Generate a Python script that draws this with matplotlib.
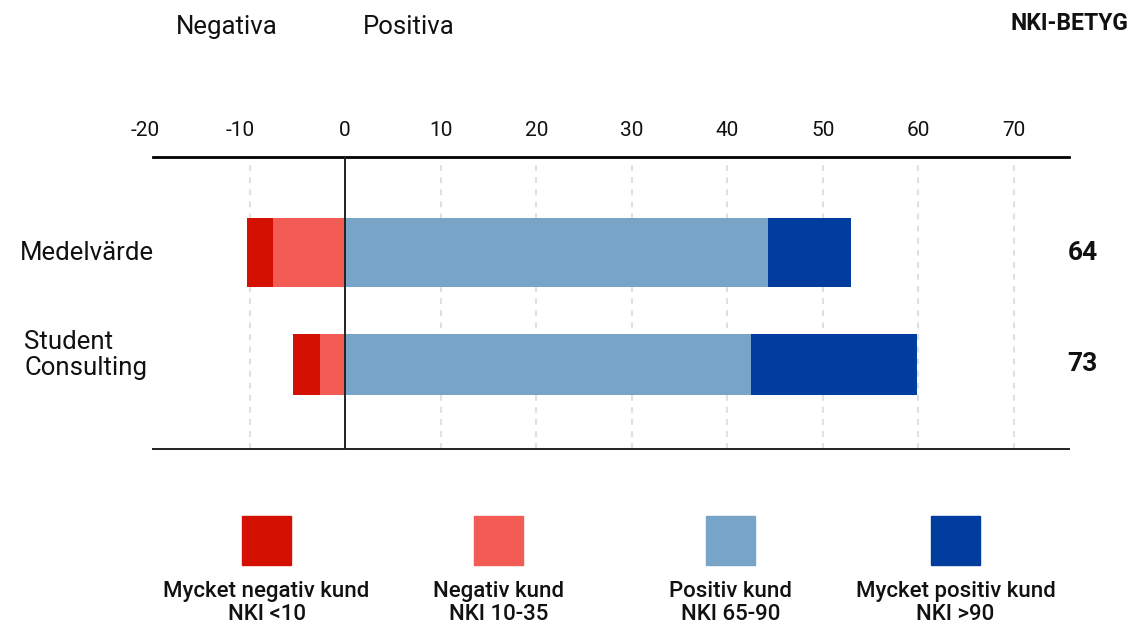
import matplotlib
matplotlib.use("Agg")
import matplotlib.pyplot as plt
import matplotlib.transforms as mtransforms
from matplotlib.patches import Rectangle

plt.rcParams['font.family'] = ['Roboto', 'DejaVu Sans']

# data
categories = ["Medelvärde", "Student\nConsulting"]
nki_scores = ["64", "73"]
very_neg = [2.72, 2.82]
neg = [7.53, 2.62]
pos = [44.3, 42.5]
very_pos = [8.6, 17.3]

ticks = [-20, -10, 0, 10, 20, 30, 40, 50, 60, 70]
tick_labels = ["-20", "-10", "0", "10", "20", "30", "40", "50", "60", "70"]

legend_names = ["Mycket negativ kund\nNKI <10", "Negativ kund\nNKI 10-35",
                "Positiv kund\nNKI 65-90", "Mycket positiv kund\nNKI >90"]
colors = ["#D41100", "#F25C54", "#78A4C8", "#003D9E"]

W, H = 1135, 628
TXT = "#111111"
fig = plt.figure(figsize=(W / 100, H / 100), dpi=100)
ax = fig.add_axes([153 / W, 1 - 449 / H, (1069 - 153) / W, (449 - 157) / H])

ypos = [0, 1]
heights = [0.62, 0.55]

# negative side stacks leftwards from 0
ax.barh(ypos, [-v for v in neg], height=heights, left=0, color=colors[1], zorder=2)
ax.barh(ypos, [-v for v in very_neg], height=heights,
        left=[-v for v in neg], color=colors[0], zorder=2)
ax.barh(ypos, pos, height=heights, left=0, color=colors[2], zorder=2)
ax.barh(ypos, very_pos, height=heights, left=pos, color=colors[3], zorder=2)

ax.axvline(0, color="#222222", lw=1.4, zorder=3)
for t in ticks:
    if t not in (0, -20):
        ax.axvline(t, color="#e0e0e0", lw=1.5, ls=(0, (2.8, 3.0)), zorder=1)

ax.set_xlim(-20.1, 75.75)
ax.set_ylim(1.76, -0.86)
ax.set_yticks([])
ax.set_xticks(ticks)
ax.set_xticklabels(tick_labels)
ax.tick_params(axis="x", top=False, bottom=False, labeltop=True, labelbottom=False,
               pad=9, labelsize=15, labelcolor=TXT)
# negative labels sit a bit left of their gridline in the original
for lab, t in zip(ax.get_xticklabels(), ticks):
    if t < 0:
        lab.set_transform(lab.get_transform() +
                          mtransforms.ScaledTranslation(-9 / 100, 0, fig.dpi_scale_trans))

for s in ["left", "right"]:
    ax.spines[s].set_visible(False)
ax.spines["top"].set_linewidth(2.0)
ax.spines["bottom"].set_linewidth(1.4)
ax.spines["bottom"].set_color("#222222")

# category labels and scores
cat_pos = [(20, 253), (24, 355)]
for i, cat in enumerate(categories):
    fig.text(cat_pos[i][0] / W, 1 - cat_pos[i][1] / H, cat, ha="left", va="center",
             fontsize=18.5, color=TXT, linespacing=1.08)
trans = mtransforms.blended_transform_factory(fig.transFigure, ax.transData)
for i, sc in enumerate(nki_scores):
    ax.text(1082.5 / W, ypos[i], sc, transform=trans, ha="center", va="center",
            fontsize=19, fontweight="bold", color=TXT)

fig.text(227 / W, 1 - 27 / H, "Negativa", ha="center", va="center", fontsize=18.5, color=TXT)
fig.text(363 / W, 1 - 27 / H, "Positiva", ha="left", va="center", fontsize=18.5, color=TXT)
fig.text(1128 / W, 1 - 23 / H, "NKI-BETYG", ha="right", va="center", fontsize=16.5,
         fontweight="bold", color=TXT)

# legend squares with labels below
leg_x = [266.5, 498.5, 730.5, 955.5]
for cx, name, c in zip(leg_x, legend_names, colors):
    fig.add_artist(Rectangle(((cx - 24.5) / W, 1 - 565 / H), 49 / W, 49 / H,
                             transform=fig.transFigure, color=c))
    fig.text(cx / W, 1 - 603 / H, name, ha="center", va="center", fontsize=16,
             fontweight="medium", color=TXT, linespacing=1.08)

fig.savefig("out.png", dpi=100)
